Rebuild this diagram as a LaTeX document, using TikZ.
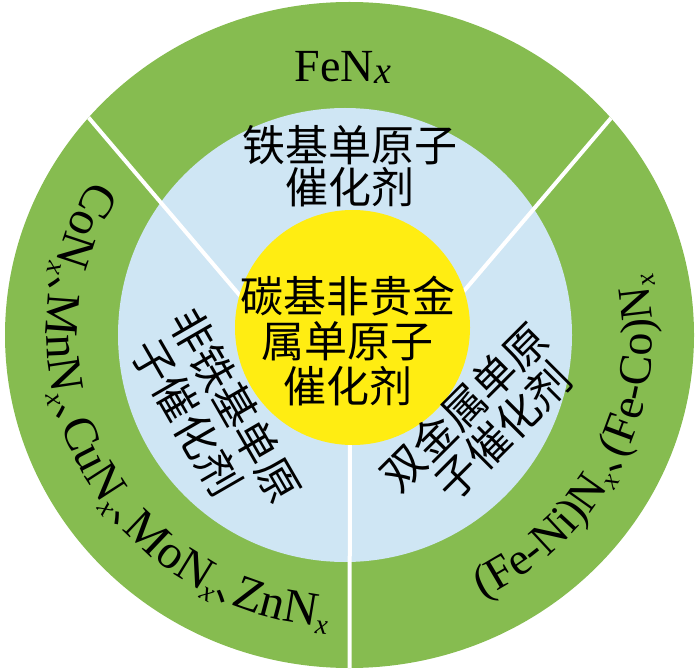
\documentclass[tikz,border=0pt]{standalone}
\usepackage{fontspec}
\setmainfont{Liberation Serif}
\newfontfamily\cjk{Noto Sans CJK SC}
\definecolor{ringgreen}{RGB}{134,188,80}
\definecolor{ringblue}{RGB}{207,230,244}
\definecolor{coreyellow}{RGB}{255,237,18}
\newdimen\pcw
\newcount\pcn
\def\osz{46}
\newcommand\ofont{\fontsize{\osz}{\osz}\selectfont}
\newcommand\subfont{\fontsize{27}{27}\selectfont\itshape}
\newcommand\dunhao{\makebox[19pt][l]{\cjk\fontsize{40}{40}\selectfont 、}}
\def\ocx{349.5}\def\ocy{335}\def\ea{303}\def\eb{293}
\newcommand\arcpiece[2]{%
  \pgfinterruptpicture\global\setbox1=\hbox{#1}\endpgfinterruptpicture
  \pcw=\wd1
  \pgfmathsetmacro\pcwv{\pcw}%
  \pgfmathsetmacro\spd{100*veclen(\ea/100*sin(\curang),\eb/100*cos(\curang))}%
  \pgfmathsetmacro\dang{\pcwv/\spd*57.29578}%
  \pgfmathsetmacro\midang{\curang+0.5*\dang}%
  \pgfmathsetmacro\rot{atan2(\eb*cos(\midang),-\ea*sin(\midang))}%
  \global\advance\pcn by 1\relax
  \node[arcglyph, rotate=\rot, name=g\the\pcn] at ({\ocx+(\ea+#2)*cos(\midang)},{\ocy+(\eb+#2)*sin(\midang)}) {#1};%
  \pgfmathsetmacro\newang{\curang+\dang}%
  \xdef\curang{\newang}%
}
\def\arcword#1{\arcwordi#1\relax}
\def\arcwordi#1{\ifx\relax#1\else\arcpiece{\ofont#1}{0}\expandafter\arcwordi\fi}
\newcommand\arcsub{\arcpiece{\subfont x}{7}}
\newcommand\arcsep{\arcpiece{\dunhao}{0}}
\tikzset{
  arcglyph/.style={inner sep=0pt, outer sep=0pt, anchor=base, text=black},
  cjktext/.style={inner sep=0pt, align=center, font=\cjk\fontsize{43}{45}\selectfont},
  divider/.style={white, line width=4pt},
}
\begin{document}
\begin{tikzpicture}[x=1pt, y=1pt]
\useasboundingbox (0,0) rectangle (700,670);
\fill[ringgreen] (\ocx,\ocy) ellipse [x radius=344.5, y radius=333];
\fill[ringblue] (345,335) circle [radius=227];
\coordinate (V) at (350,245);
\coordinate (L) at (60,586);
\coordinate (R) at (640,586);
\coordinate (B) at (349.5,-10);
\begin{scope}
\clip (\ocx,\ocy) ellipse [x radius=344.5, y radius=333];
\draw[divider] (V) -- (L);
\draw[divider] (V) -- (R);
\draw[divider] (V) -- (B);
\end{scope}
\fill[coreyellow] (352.5,342.5) circle [radius=117.5];
% texts
\node[cjktext] (core) at (347.5,329) {碳基非贵金\\属单原子\\催化剂};
\node[cjktext, font=\cjk\fontsize{43}{42}\selectfont] (fe) at (350,504) {铁基单原子\\催化剂};
\node[cjktext, rotate=-60] (nf1) at (235,265) {非铁基单原};
\node[cjktext, rotate=-60] (nf2) at (187,253) {子催化剂};
\node[cjktext, rotate=45] (bm1) at (464,263) {双金属单原};
\node[cjktext, rotate=45] (bm2) at (503,239) {子催化剂};
\node[arcglyph] (fen) at (343,588) {\ofont FeN\raisebox{-2pt}{\fontsize{38}{38}\selectfont\itshape x}};
% left outer ring text
\def\osz{48}
\renewcommand\subfont{\fontsize{28}{28}\selectfont\itshape}
\xdef\curang{148}
\arcword{CoN}\arcsub\arcsep
\arcword{MnN}\arcsub\arcsep
\arcword{CuN}\arcsub\arcsep
\arcword{MoN}\arcsub\arcsep
\arcword{ZnN}\arcsub
% right outer ring text
\def\osz{46}
\renewcommand\subfont{\fontsize{27}{27}\selectfont\itshape}
\xdef\curang{-64}
\arcword{(Fe-Ni)N}\arcsub\arcsep
\arcword{(Fe-Co)N}\arcsub
\end{tikzpicture}
\end{document}
